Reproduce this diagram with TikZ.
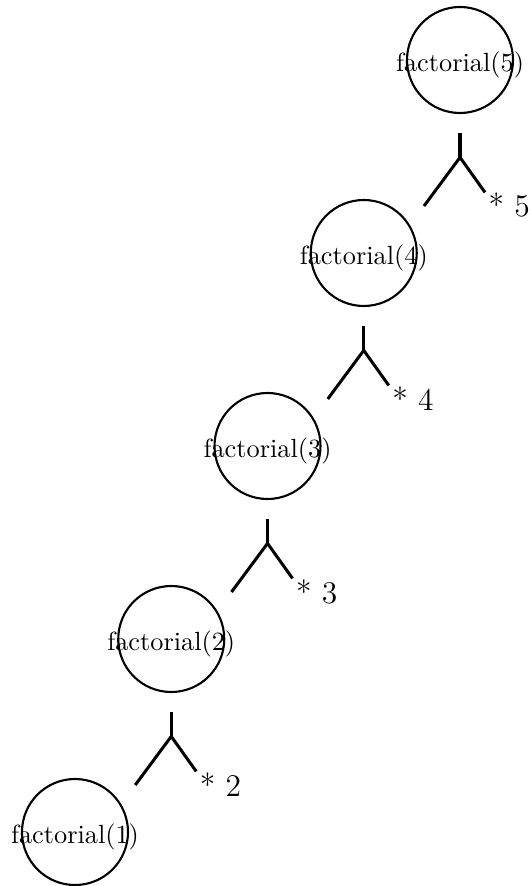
\documentclass[tikz,border=0pt]{standalone}
\usetikzlibrary{calc}
\begin{document}
\begin{tikzpicture}[x=0.3802pt,y=-0.3802pt,
  fcirc/.style={circle,draw,line width=0.8pt,minimum size=106*0.3802pt,inner sep=0pt},
  ftext/.style={anchor=base,inner sep=0pt,font=\fontsize{10}{12}\selectfont},
  startext/.style={anchor=base west,inner sep=0pt,font=\fontsize{12}{14}\selectfont},
  branch/.style={line width=1.15pt}]
\useasboundingbox (0,0) rectangle (529,886);
\foreach \k in {5,4,3,2,1}{
  \pgfmathsetmacro{\cx}{460-96.25*(5-\k)}
  \pgfmathsetmacro{\cy}{60+193*(5-\k)}
  \node[fcirc] (c\k) at (\cx,\cy) {};
  \node[ftext] (t\k) at ($(c\k.center)+(0,11.3)$) {factorial(\k)};
}
\foreach \k in {5,4,3,2}{
  \coordinate (s\k) at ($(c\k.center)+(0,73)$);
  \coordinate (j\k) at ($(c\k.center)+(0,97.4)$);
  \coordinate (l\k) at ($(c\k.center)+(-36,146)$);
  \coordinate (r\k) at ($(c\k.center)+(25,132.4)$);
  \node[startext] (m\k) at ($(c\k.center)+(28,157)$) {* \k};
  \draw[branch] (s\k) -- (j\k);
  \draw[branch] (j\k) -- (l\k);
  \draw[branch] (j\k) -- (r\k);
}
\end{tikzpicture}
\end{document}
